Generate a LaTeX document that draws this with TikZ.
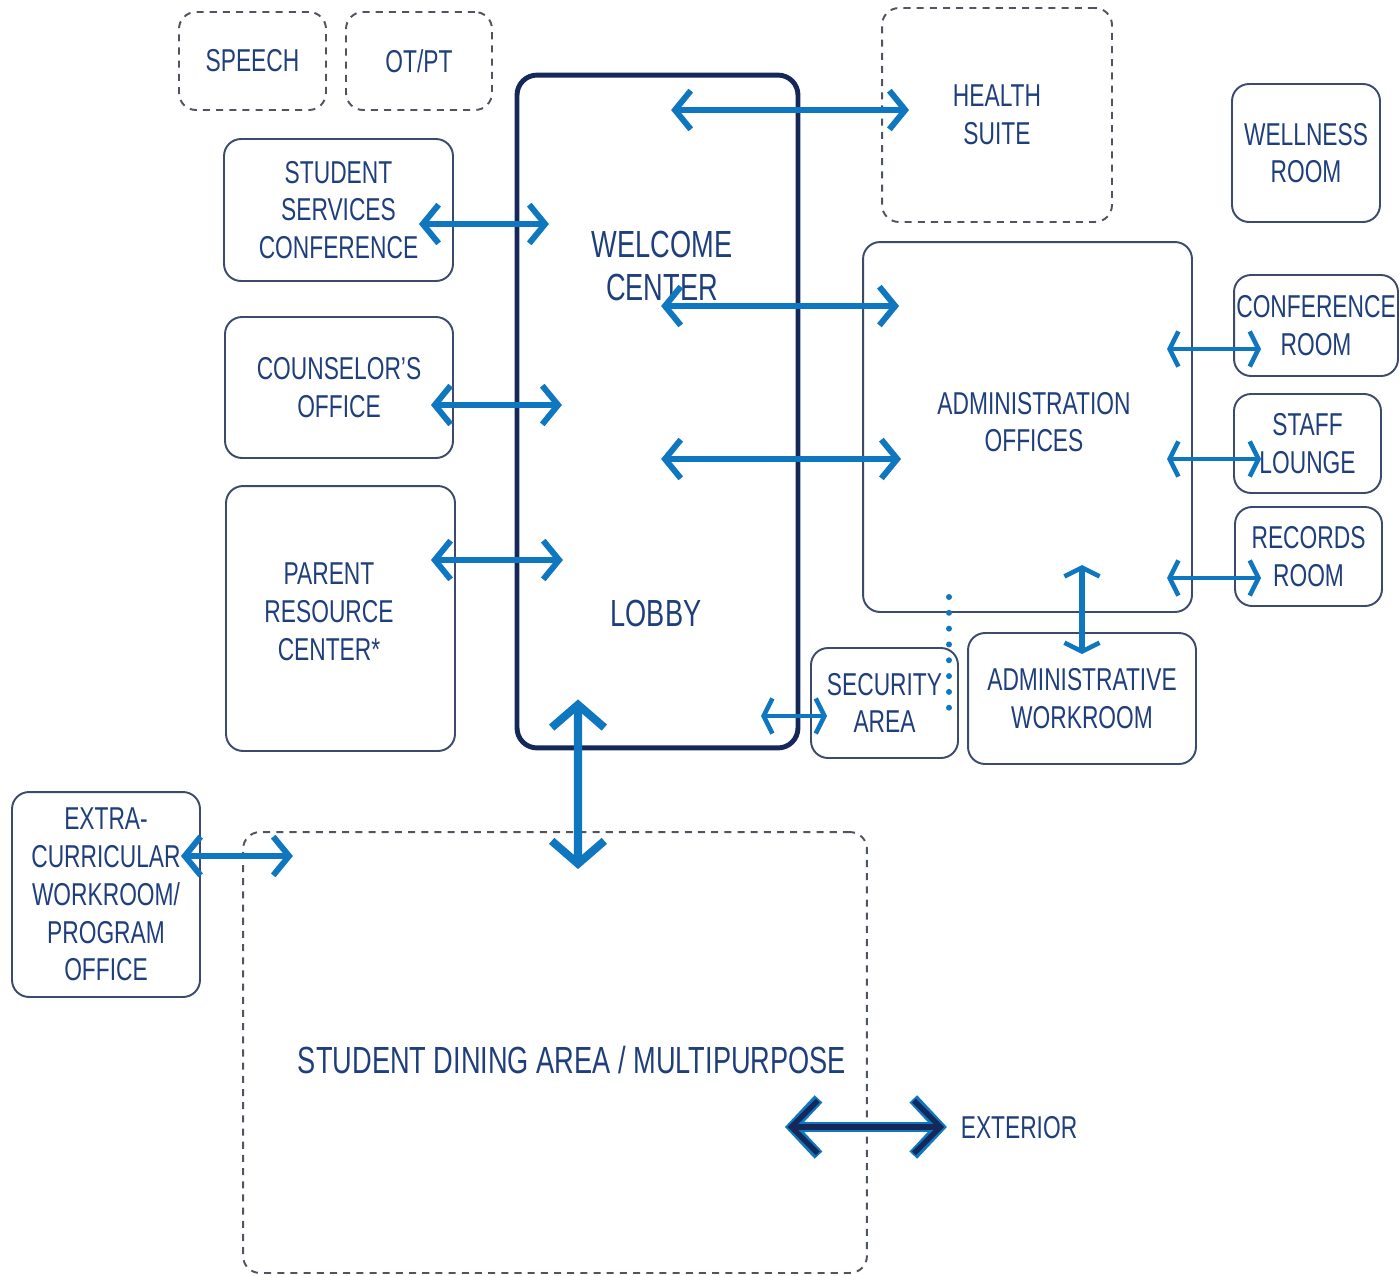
\documentclass[tikz,border=0pt]{standalone}
\usepackage{fontspec}
\setmainfont[FakeStretch=0.72]{Liberation Sans}
\usetikzlibrary{arrows.meta}
\definecolor{inkblue}{HTML}{1F3F7C}
\definecolor{boxline}{HTML}{3C4A6C}
\definecolor{lobbyline}{HTML}{14285A}
\definecolor{flowblue}{HTML}{0F77C0}
\definecolor{dashgray}{HTML}{50545E}
\begin{document}
\begin{tikzpicture}[x=0.02cm,y=-0.02cm,
	room/.style={draw=boxline,line width=1.1pt,rounded corners=0.34cm,text=inkblue,align=center,
		font=\fontsize{18}{21.5}\selectfont,inner sep=0pt},
	future/.style={room,draw=dashgray,dash pattern=on 4pt off 3.5pt},
	label/.style={text=inkblue,align=center,font=\fontsize{21.5}{25}\selectfont},
	link/.style={flowblue,line width=3.4pt,{Straight Barb[length=9pt,width=22pt,line width=3.4pt]}-{Straight Barb[length=9pt,width=22pt,line width=3.4pt]}},
	slim/.style={flowblue,line width=2.4pt,{Straight Barb[length=5pt,width=20pt,line width=2.6pt]}-{Straight Barb[length=5pt,width=20pt,line width=2.6pt]}},
	bold/.style={flowblue,line width=4.6pt,{Straight Barb[length=13pt,width=30pt,line width=4.6pt]}-{Straight Barb[length=13pt,width=30pt,line width=4.6pt]}}]
	\useasboundingbox (0,0) rectangle (1399,1275);
	% rooms
	\node[future,minimum width=2.94cm,minimum height=1.96cm] (speech) at (252.5,61) {SPEECH};
	\node[future,minimum width=2.92cm,minimum height=1.96cm] (otpt) at (419,61) {OT/PT};
	\node[future,minimum width=4.6cm,minimum height=4.28cm] (health) at (997,115) {HEALTH\\SUITE};
	\node[room,minimum width=2.96cm,minimum height=2.76cm] (wellness) at (1306,153) {WELLNESS\\ROOM};
	\node[room,draw=lobbyline,line width=2.8pt,rounded corners=0.4cm,minimum width=5.62cm,minimum height=13.46cm] (lobby) at (657.5,411.5) {};
	\node[room,minimum width=4.58cm,minimum height=2.84cm] (sscon) at (338.5,210) {STUDENT\\SERVICES\\CONFERENCE};
	\node[room,minimum width=4.56cm,minimum height=2.82cm] (couns) at (339,387.5) {COUNSELOR'S\\OFFICE};
	\node[room,minimum width=4.58cm,minimum height=5.3cm] (parent) at (340.5,618.5) {};
	\node[room,minimum width=6.58cm,minimum height=7.4cm] (admin) at (1027.5,427) {};
	\node[room,minimum width=3.28cm,minimum height=2.02cm] (confroom) at (1316,325.5) {CONFERENCE\\ROOM};
	\node[room,minimum width=2.94cm,minimum height=1.98cm] (staff) at (1307.5,443.5) {STAFF\\LOUNGE};
	\node[room,minimum width=2.94cm,minimum height=1.98cm] (records) at (1308.5,556.5) {RECORDS\\ROOM};
	\node[room,minimum width=2.94cm,minimum height=2.2cm] (security) at (884.5,703) {SECURITY\\AREA};
	\node[room,minimum width=4.56cm,minimum height=2.62cm] (workroom) at (1082,698.5) {ADMINISTRATIVE\\WORKROOM};
	\node[room,minimum width=3.76cm,minimum height=4.1cm] (extra) at (106,894.5) {EXTRA-\\CURRICULAR\\WORKROOM/\\PROGRAM\\OFFICE};
	\node[future,minimum width=12.48cm,minimum height=8.82cm] (dining) at (555,1052.5) {};
	% labels
	\node[label] (welcome) at (662,266) {WELCOME\\CENTER};
	\node[label] (lobbytext) at (656,613) {LOBBY};
	\node[room,draw=none] (parenttext) at (329,612) {PARENT\\RESOURCE\\CENTER*};
	\node[room,draw=none] (admintext) at (1034,422) {ADMINISTRATION\\OFFICES};
	\node[label] (diningtext) at (572,1060) {STUDENT DINING AREA / MULTIPURPOSE};
	\node[room,draw=none] (exterior) at (1019,1128) {EXTERIOR};
	% circulation
	\draw[link] ([xshift=-4.2cm,yshift=0.1cm]health.west) -- ([xshift=0.56cm,yshift=0.1cm]health.west);
	\draw[link] ([xshift=-0.7cm,yshift=-0.28cm]sscon.east) -- ([xshift=1.9cm,yshift=-0.28cm]sscon.east);
	\draw[link] ([xshift=-4.02cm,yshift=2.42cm]admin.west) -- ([xshift=0.74cm,yshift=2.42cm]admin.west);
	\draw[link] ([xshift=-0.46cm,yshift=-0.35cm]couns.east) -- ([xshift=2.16cm,yshift=-0.35cm]couns.east);
	\draw[link] ([xshift=-4.02cm,yshift=-0.64cm]admin.west) -- ([xshift=0.78cm,yshift=-0.64cm]admin.west);
	\draw[link] ([xshift=-0.5cm,yshift=1.17cm]parent.east) -- ([xshift=2.14cm,yshift=1.17cm]parent.east);
	\draw[link] ([xshift=-0.4cm,yshift=0.77cm]extra.east) -- ([xshift=1.84cm,yshift=0.77cm]extra.east);
	\draw[slim] ([xshift=-1.32cm,yshift=-0.47cm]confroom.west) -- ([xshift=0.56cm,yshift=-0.47cm]confroom.west);
	\draw[slim] ([xshift=-1.32cm,yshift=-0.31cm]staff.west) -- ([xshift=0.56cm,yshift=-0.31cm]staff.west);
	\draw[slim] ([xshift=-1.34cm,yshift=-0.43cm]records.west) -- ([xshift=0.54cm,yshift=-0.43cm]records.west);
	\draw[slim] ([xshift=-0.98cm,yshift=-0.26cm]security.west) -- ([xshift=0.34cm,yshift=-0.26cm]security.west);
	\draw[slim,line width=3pt] ([yshift=1.34cm]workroom.north) -- ([yshift=-0.44cm]workroom.north);
	\draw[bold] ([xshift=-1.59cm,yshift=1.02cm]lobby.south) -- ([xshift=0.46cm,yshift=-0.76cm]dining.north);
	\draw[bold,line width=6pt,{Straight Barb[length=15pt,width=32pt,line width=6pt]}-{Straight Barb[length=15pt,width=32pt,line width=6pt]}]
		([xshift=-1.66cm,yshift=-1.49cm]dining.east) -- ([xshift=1.58cm,yshift=-1.49cm]dining.east);
	\draw[lobbyline,line width=3pt,shorten <=1.6pt,shorten >=1.6pt,{Straight Barb[length=15pt,width=30pt,line width=3pt]}-{Straight Barb[length=15pt,width=30pt,line width=3pt]}]
		([xshift=-1.66cm,yshift=-1.49cm]dining.east) -- ([xshift=1.58cm,yshift=-1.49cm]dining.east);
	\coordinate (dtop) at (949,597);
	\coordinate (dbot) at (949,712);
	\draw[flowblue,line width=3.4pt,line cap=round,dash pattern=on 0pt off 9pt] (dtop) -- (dbot);
\end{tikzpicture}
\end{document}
